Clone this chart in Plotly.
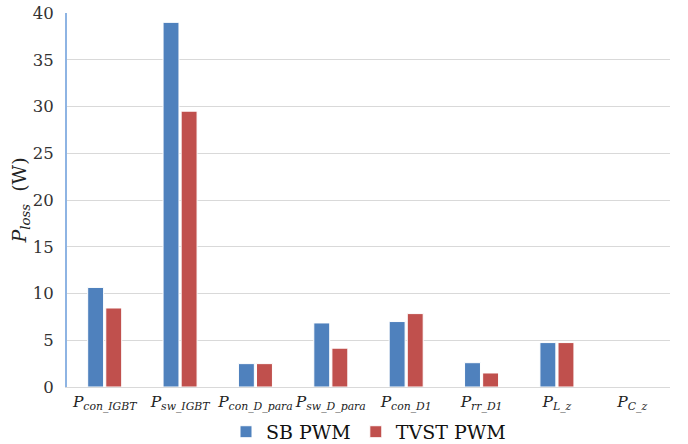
import plotly.graph_objects as go

categories = ["con_IGBT", "sw_IGBT", "con_D_para", "sw_D_para", "con_D1", "rr_D1", "L_z", "C_z"]
sb_pwm = [10.65, 39.0, 2.5, 6.85, 7.0, 2.6, 4.75, 0]
tvst_pwm = [8.45, 29.5, 2.5, 4.15, 7.85, 1.5, 4.75, 0]
y_ticks = [0, 5, 10, 15, 20, 25, 30, 35, 40]

labels = [f"<i>P</i><sub><i>{c}</i></sub>" for c in categories]

SERIF = "DejaVu Serif"

fig = go.Figure()
fig.add_trace(go.Bar(x=labels, y=sb_pwm, name="SB PWM",
                     marker=dict(color="#4F81BD", line=dict(color="#FFFFFF", width=1))))
fig.add_trace(go.Bar(x=labels, y=tvst_pwm, name="TVST PWM",
                     marker=dict(color="#C0504D", line=dict(color="#FFFFFF", width=1))))

fig.update_layout(
    width=688, height=444,
    margin=dict(l=67, r=18, t=13, b=57, autoexpand=False),
    plot_bgcolor="white", paper_bgcolor="white",
    barmode="group", bargap=0.52, bargroupgap=0.12,
    font=dict(family=SERIF, size=17, color="#222222"),
    showlegend=True,
    legend=dict(orientation="h", x=0.5, xanchor="center", y=-0.12, yanchor="middle",
                font=dict(family=SERIF, size=19, color="#111111"), itemwidth=30,
                traceorder="normal", tracegroupgap=0),
    xaxis=dict(showgrid=False, showline=True, linecolor="#D9D9D9", linewidth=1,
               ticks="", tickangle=0, automargin=False,
               tickfont=dict(family=SERIF, size=15.5, color="#222222")),
    yaxis=dict(range=[0, 40], tickvals=y_ticks, showgrid=True, gridcolor="#D9D9D9",
               gridwidth=1, showline=True, linecolor="#8EB4E3", linewidth=2,
               zeroline=False, ticks="", ticklabelstandoff=8, automargin=False,
               tickfont=dict(family=SERIF, size=16.5, color="#333333"),
               title=dict(text="<i>P</i><sub><i>loss</i></sub>  (W)", standoff=0,
                          font=dict(family=SERIF, size=19, color="#222222"))),
)

fig.write_html("out.html")
